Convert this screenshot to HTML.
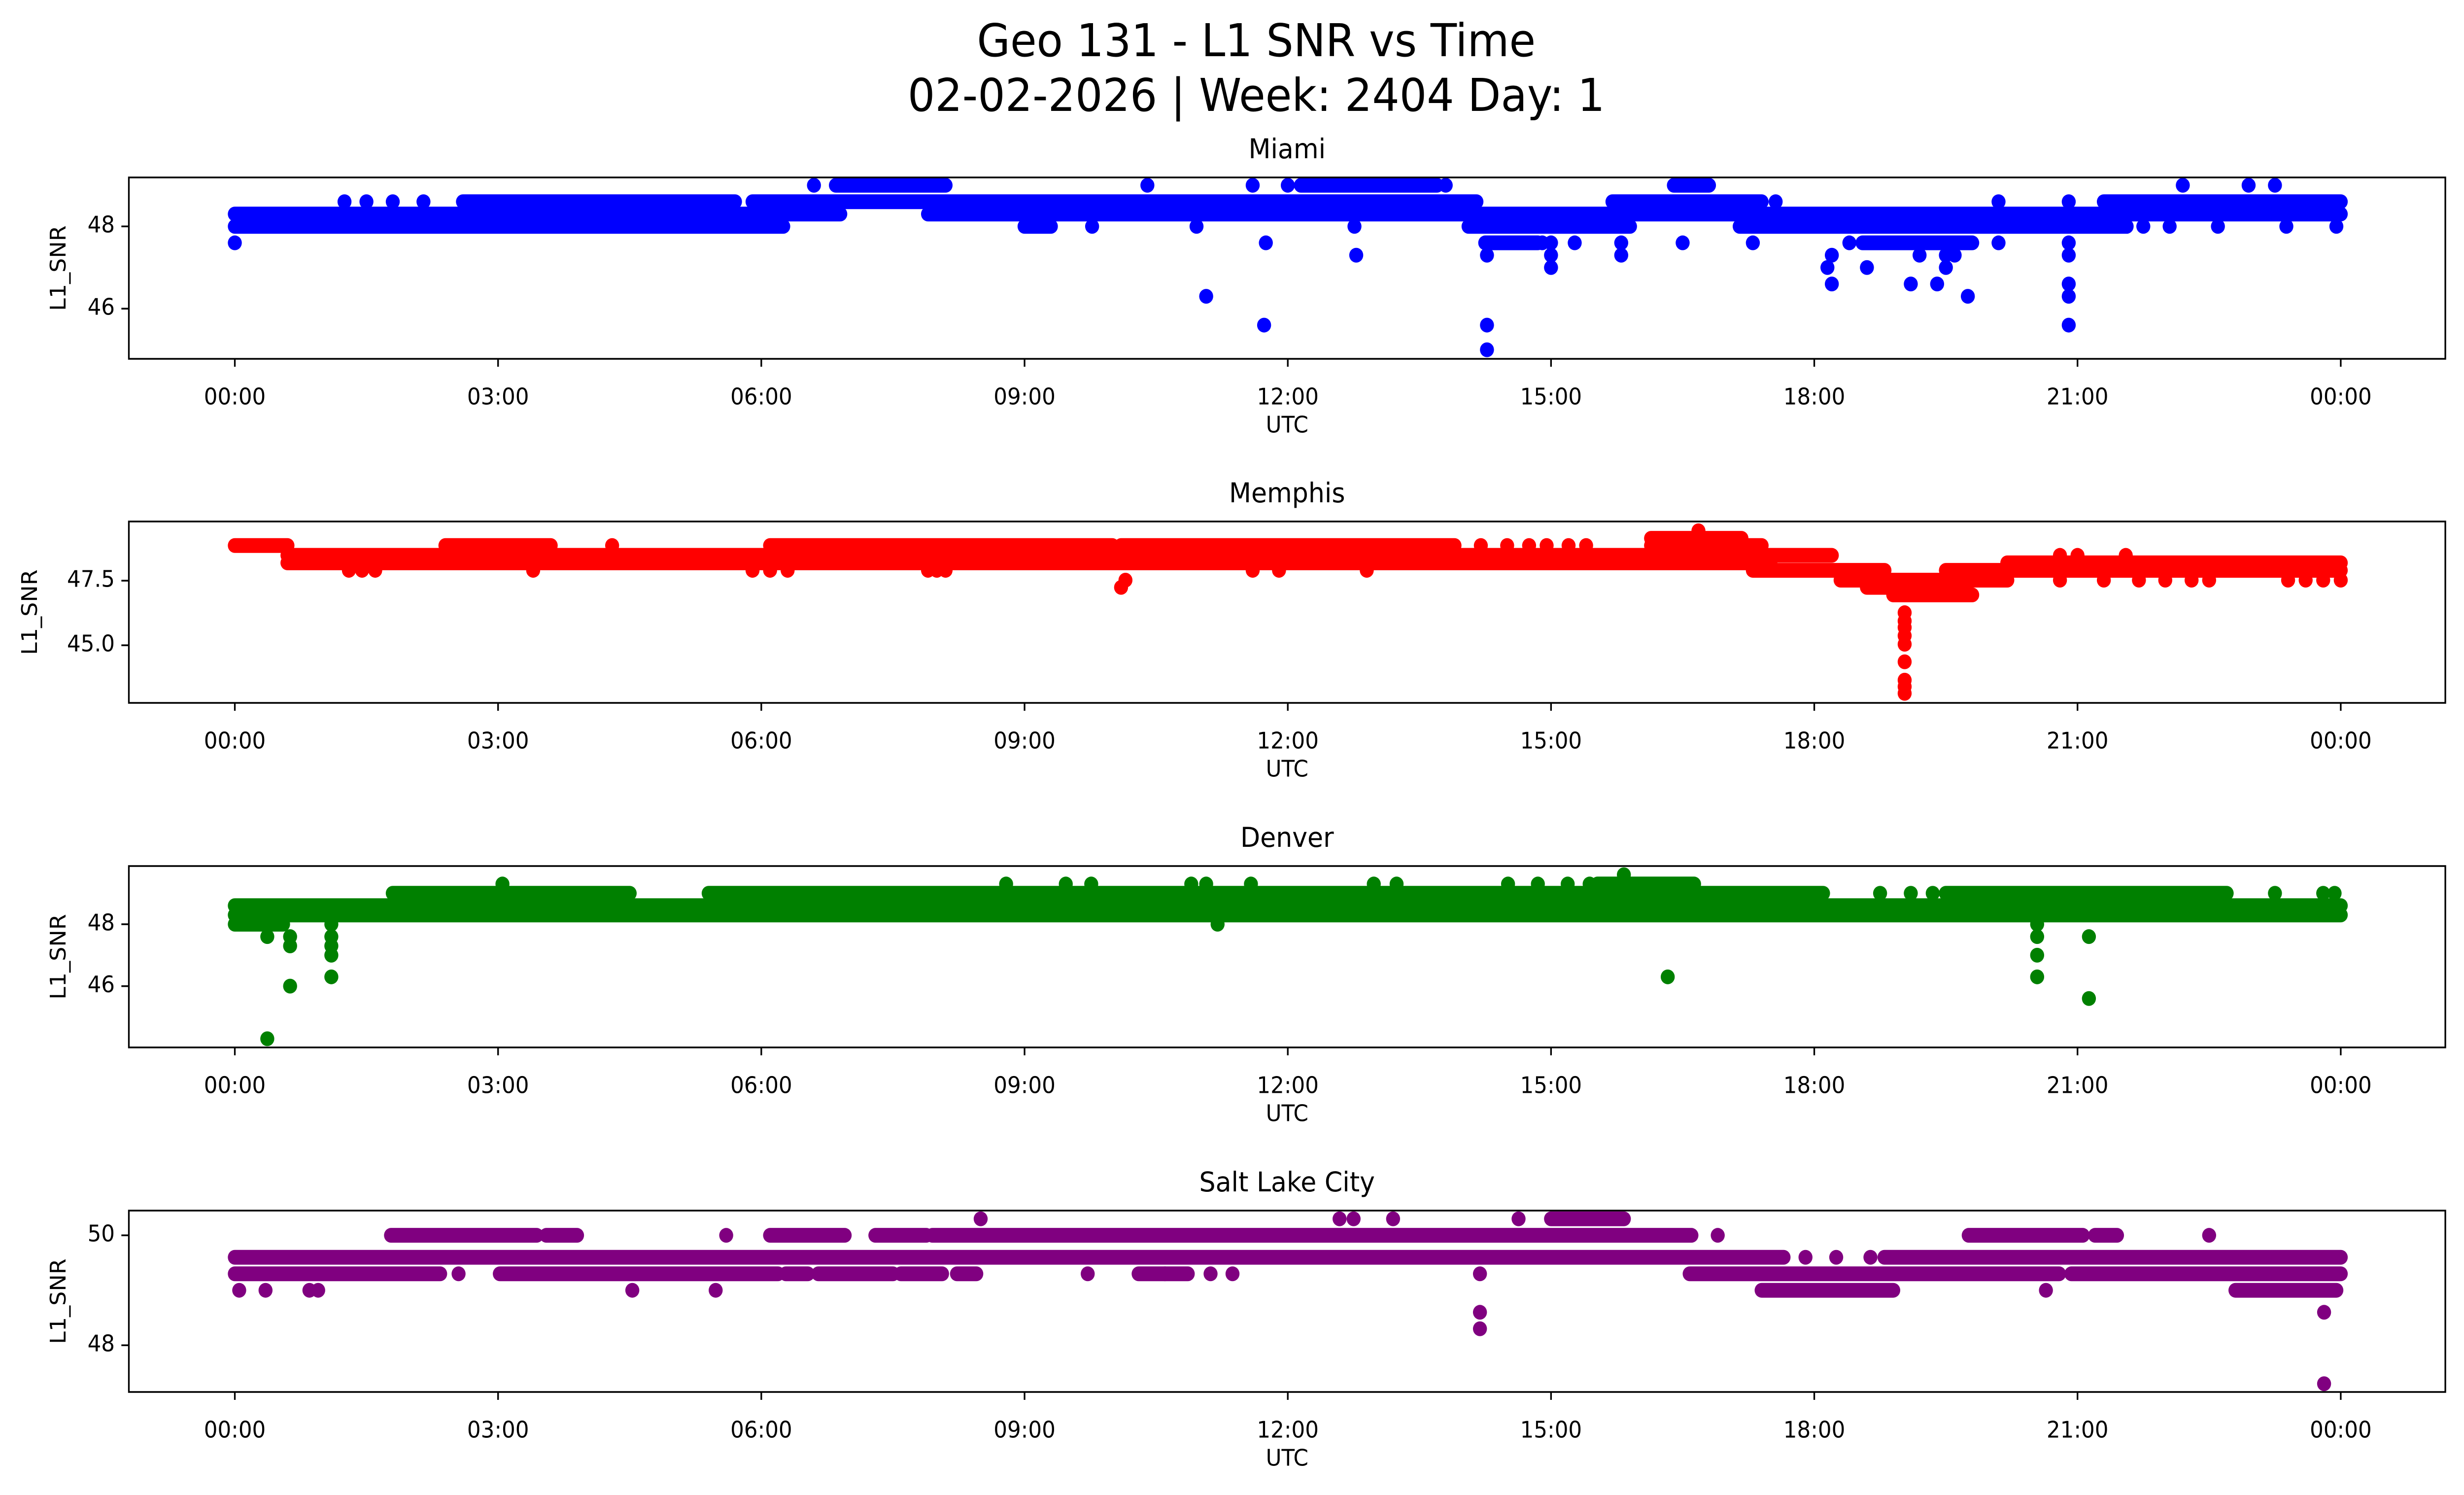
<!DOCTYPE html>
<html><head><meta charset="utf-8"><style>
html,body{margin:0;padding:0;background:#fff;overflow:hidden;width:100%;height:100%;}
svg{display:block;width:100vw;height:100vh;font-family:"DejaVu Sans","Liberation Sans",sans-serif;}
</style></head>
<body>
<svg id="fig" viewBox="0 0 5278 3033" preserveAspectRatio="none" xmlns="http://www.w3.org/2000/svg">
<rect x="0" y="0" width="5278" height="3033" fill="#fff"/>
<text x="2691" y="114" font-size="92" text-anchor="middle">Geo 131 - L1 SNR vs Time</text>
<text x="2691" y="225" font-size="92" text-anchor="middle">02-02-2026 | Week: 2404 Day: 1</text>
</svg>
<script>
// ---- data (hours UTC, L1 SNR) ----
const xTickHours = [0,3,6,9,12,15,18,21,24];
const xTickLabels = ["00:00","03:00","06:00","09:00","12:00","15:00","18:00","21:00","00:00"];

const miamiBands = [[0,6.25,48.0],[9.0,9.3,48.0],[14.06,15.9,48.0],[17.15,21.56,48.0],
 [0,6.9,48.3],[7.9,24,48.3],
 [2.6,5.7,48.6],[5.9,14.15,48.6],[15.7,17.4,48.6],[21.3,24,48.6],
 [6.85,8.1,49.0],[12.15,13.7,49.0],[16.4,16.8,49.0],
 [14.25,14.85,47.6],[18.55,19.8,47.6]];
const miamiPoints = [[1.25,48.6],[1.5,48.6],[1.8,48.6],[2.15,48.6],[17.56,48.6],[20.1,48.6],[20.9,48.6],
 [9.77,48.0],[10.96,48.0],[12.76,48.0],[21.75,48.0],[22.05,48.0],[22.6,48.0],[23.38,48.0],[23.95,48.0],
 [6.6,49.0],[10.4,49.0],[11.6,49.0],[12.0,49.0],[13.8,49.0],[22.2,49.0],[22.95,49.0],[23.25,49.0],
 [0,47.6],[11.75,47.6],[14.9,47.6],[15.0,47.6],[15.27,47.6],[15.8,47.6],[16.5,47.6],[17.3,47.6],[18.4,47.6],[20.1,47.6],[20.9,47.6],
 [12.78,47.3],[14.27,47.3],[15.0,47.3],[15.8,47.3],[18.2,47.3],[19.2,47.3],[19.5,47.3],[19.6,47.3],[20.9,47.3],
 [15.0,47.0],[18.15,47.0],[18.6,47.0],[19.5,47.0],
 [18.2,46.6],[19.1,46.6],[19.4,46.6],[20.9,46.6],
 [11.07,46.3],[19.75,46.3],[20.9,46.3],
 [11.73,45.6],[14.27,45.6],[20.9,45.6],[14.27,45.0]];

const memphisBands = [[0,0.6,48.86],[0.6,18.2,48.48],[0.6,17.5,48.19],[2.4,3.6,48.86],[6.1,10.0,48.86],[10.1,13.9,48.86],
 [16.14,17.17,49.14],[16.14,17.4,48.86],[17.3,18.8,47.9],[18.3,19.7,47.52],[18.6,19.6,47.24],[18.9,19.8,46.95],
 [19.5,24,47.9],[19.5,20.2,47.52],[20.2,24,48.19]];
const memphisPoints = [[4.3,48.86],[14.2,48.86],[14.5,48.86],[14.75,48.86],[14.95,48.86],[15.2,48.86],[15.4,48.86],[16.68,49.43],
 [1.3,47.9],[1.45,47.9],[1.6,47.9],[3.4,47.9],[5.9,47.9],[6.1,47.9],[6.3,47.9],[7.9,47.9],[8.0,47.9],[8.1,47.9],[11.6,47.9],[11.9,47.9],[12.9,47.9],
 [10.1,47.24],[10.15,47.52],
 [20.8,47.52],[21.3,47.52],[21.7,47.52],[22.0,47.52],[22.3,47.52],[22.5,47.52],[23.4,47.52],[23.6,47.52],[23.8,47.52],[24,47.52],
 [20.8,48.48],[21.0,48.48],[21.55,48.48],
 [19.03,46.26],[19.03,45.94],[19.03,45.69],[19.03,45.37],[19.03,45.04],[19.03,44.36],[19.03,43.65],[19.03,43.4],[19.03,43.14]];

const denverBands = [[0,24,48.3],[0,24,48.6],[0,0.55,48.0],[1.8,4.5,49.0],[5.4,18.1,49.0],[19.5,22.7,49.0],[15.53,16.63,49.3]];
const denverPoints = [[18.75,49.0],[19.1,49.0],[19.35,49.0],[23.25,49.0],[23.8,49.0],[23.93,49.0],
 [3.05,49.3],[8.79,49.3],[9.47,49.3],[9.76,49.3],[10.9,49.3],[11.07,49.3],[11.58,49.3],[12.98,49.3],[13.24,49.3],[14.51,49.3],[14.85,49.3],[15.19,49.3],[15.44,49.3],
 [15.83,49.6],[1.1,48.0],[11.2,48.0],
 [0.37,47.6],[0.37,44.3],[0.63,47.6],[0.63,47.3],[0.63,46.0],
 [1.1,47.6],[1.1,47.3],[1.1,47.0],[1.1,46.3],[16.33,46.3],
 [20.54,48.0],[20.54,47.6],[20.54,47.0],[20.54,46.3],[21.13,47.6],[21.13,45.6]];

const slcBands = [[0,17.65,49.6],[18.8,24,49.6],
 [0,2.34,49.3],[3.02,6.19,49.3],[6.28,6.53,49.3],[6.65,7.5,49.3],[7.59,8.06,49.3],[8.23,8.45,49.3],[10.3,10.6,49.3],[10.6,10.86,49.3],[16.58,20.79,49.3],[20.93,24,49.3],
 [1.78,3.44,50.0],[3.55,3.9,50.0],[6.1,6.95,50.0],[7.3,7.88,50.0],[7.95,16.6,50.0],[19.76,21.06,50.0],[21.2,21.45,50.0],
 [17.4,18.9,49.0],[22.8,23.95,49.0],[15.0,15.83,50.3]];
const slcPoints = [[17.9,49.6],[18.25,49.6],[18.64,49.6],[2.55,49.3],[9.72,49.3],[11.12,49.3],[11.37,49.3],[14.19,49.3],
 [5.6,50.0],[16.9,50.0],[22.5,50.0],
 [0.05,49.0],[0.35,49.0],[0.85,49.0],[0.95,49.0],[4.53,49.0],[5.48,49.0],[20.64,49.0],
 [8.5,50.3],[12.59,50.3],[12.75,50.3],[13.2,50.3],[14.63,50.3],
 [14.19,48.6],[23.81,48.6],[14.19,48.3],[23.81,47.3]];

const panels = [
 {name:"miami", title:"Miami", color:"#0000ff", top:360, ymin:44.78, ymax:49.19, ticks:[46,48], tickLabels:["46","48"], ylabelX:128, bands:miamiBands, points:miamiPoints},
 {name:"memphis", title:"Memphis", color:"#ff0000", top:1058, ymin:42.77, ymax:49.79, ticks:[45,47.5], tickLabels:["45.0","47.5"], ylabelX:67, bands:memphisBands, points:memphisPoints},
 {name:"denver", title:"Denver", color:"#008000", top:1757, ymin:44.02, ymax:49.88, ticks:[46,48], tickLabels:["46","48"], ylabelX:128, bands:denverBands, points:denverPoints},
 {name:"salt-lake-city", title:"Salt Lake City", color:"#800080", top:2456, ymin:47.15, ymax:50.45, ticks:[48,50], tickLabels:["48","50"], ylabelX:128, bands:slcBands, points:slcPoints}
];

const NS = "http://www.w3.org/2000/svg";
const svg = document.getElementById("fig");
const L = 276, R = 5238, H = 368, R_M = 15;
const x0 = 503, x24 = 5014;
function xScale(h){ return x0 + h*(x24-x0)/24; }
function mk(tag, attrs, parent){ const e=document.createElementNS(NS,tag); for(const k in attrs) e.setAttribute(k,attrs[k]); (parent||svg).appendChild(e); return e; }

panels.forEach(p=>{
  const yScale = v => p.top + (p.ymax - v)/(p.ymax - p.ymin)*H;
  const g = mk("g",{});
  
  
  const marks = mk("g",{fill:p.color},g);
  
  
  p.bands.forEach(b=>{
    const xa = xScale(b[0]), xb = xScale(b[1]), y = yScale(b[2]);
    const r = mk("rect",{x:xa-R_M, y:y-R_M, width:xb-xa+2*R_M, height:2*R_M, rx:R_M, ry:R_M},marks);
    
    
  });
  p.points.forEach(pt=>{
    const c = mk("circle",{cx:xScale(pt[0]), cy:yScale(pt[1]), r:R_M},marks);
    
    
  });
  const frame = mk("rect",{x:L,y:p.top,width:R-L,height:H,fill:"none",stroke:"#000","stroke-width":3.5},g);
  
  
  xTickHours.forEach((h,i)=>{
    const x = xScale(h);
    mk("line",{x1:x,y1:p.top+H,x2:x,y2:p.top+H+16,stroke:"#000","stroke-width":3.5},g);
    const t = mk("text",{x:x,y:p.top+H+80,"font-size":46,"text-anchor":"middle","dominant-baseline":"middle"},g);
    t.textContent = xTickLabels[i];
    
    
  });
  p.ticks.forEach((v,i)=>{
    const y = yScale(v);
    mk("line",{x1:L-16,y1:y,x2:L,y2:y,stroke:"#000","stroke-width":3.5},g);
    const t = mk("text",{x:L-30,y:y,"font-size":46,"text-anchor":"end","dominant-baseline":"middle"},g);
    t.textContent = p.tickLabels[i];
    
    
  });
  const xl = mk("text",{x:(L+R)/2,y:p.top+H+137,"font-size":46,"text-anchor":"middle","dominant-baseline":"middle"},g);
  xl.textContent = "UTC";
  
  
  const yl = mk("text",{x:0,y:0,"font-size":46,"text-anchor":"middle","dominant-baseline":"middle",transform:`translate(${p.ylabelX},${p.top+H/2}) rotate(-90)`},g);
  yl.textContent = "L1_SNR";
  
  
  const tt = mk("text",{x:(L+R)/2,y:p.top-54,"font-size":55,"text-anchor":"middle","dominant-baseline":"middle"},g);
  tt.textContent = p.title;
  
  
});
</script>
</body></html>
